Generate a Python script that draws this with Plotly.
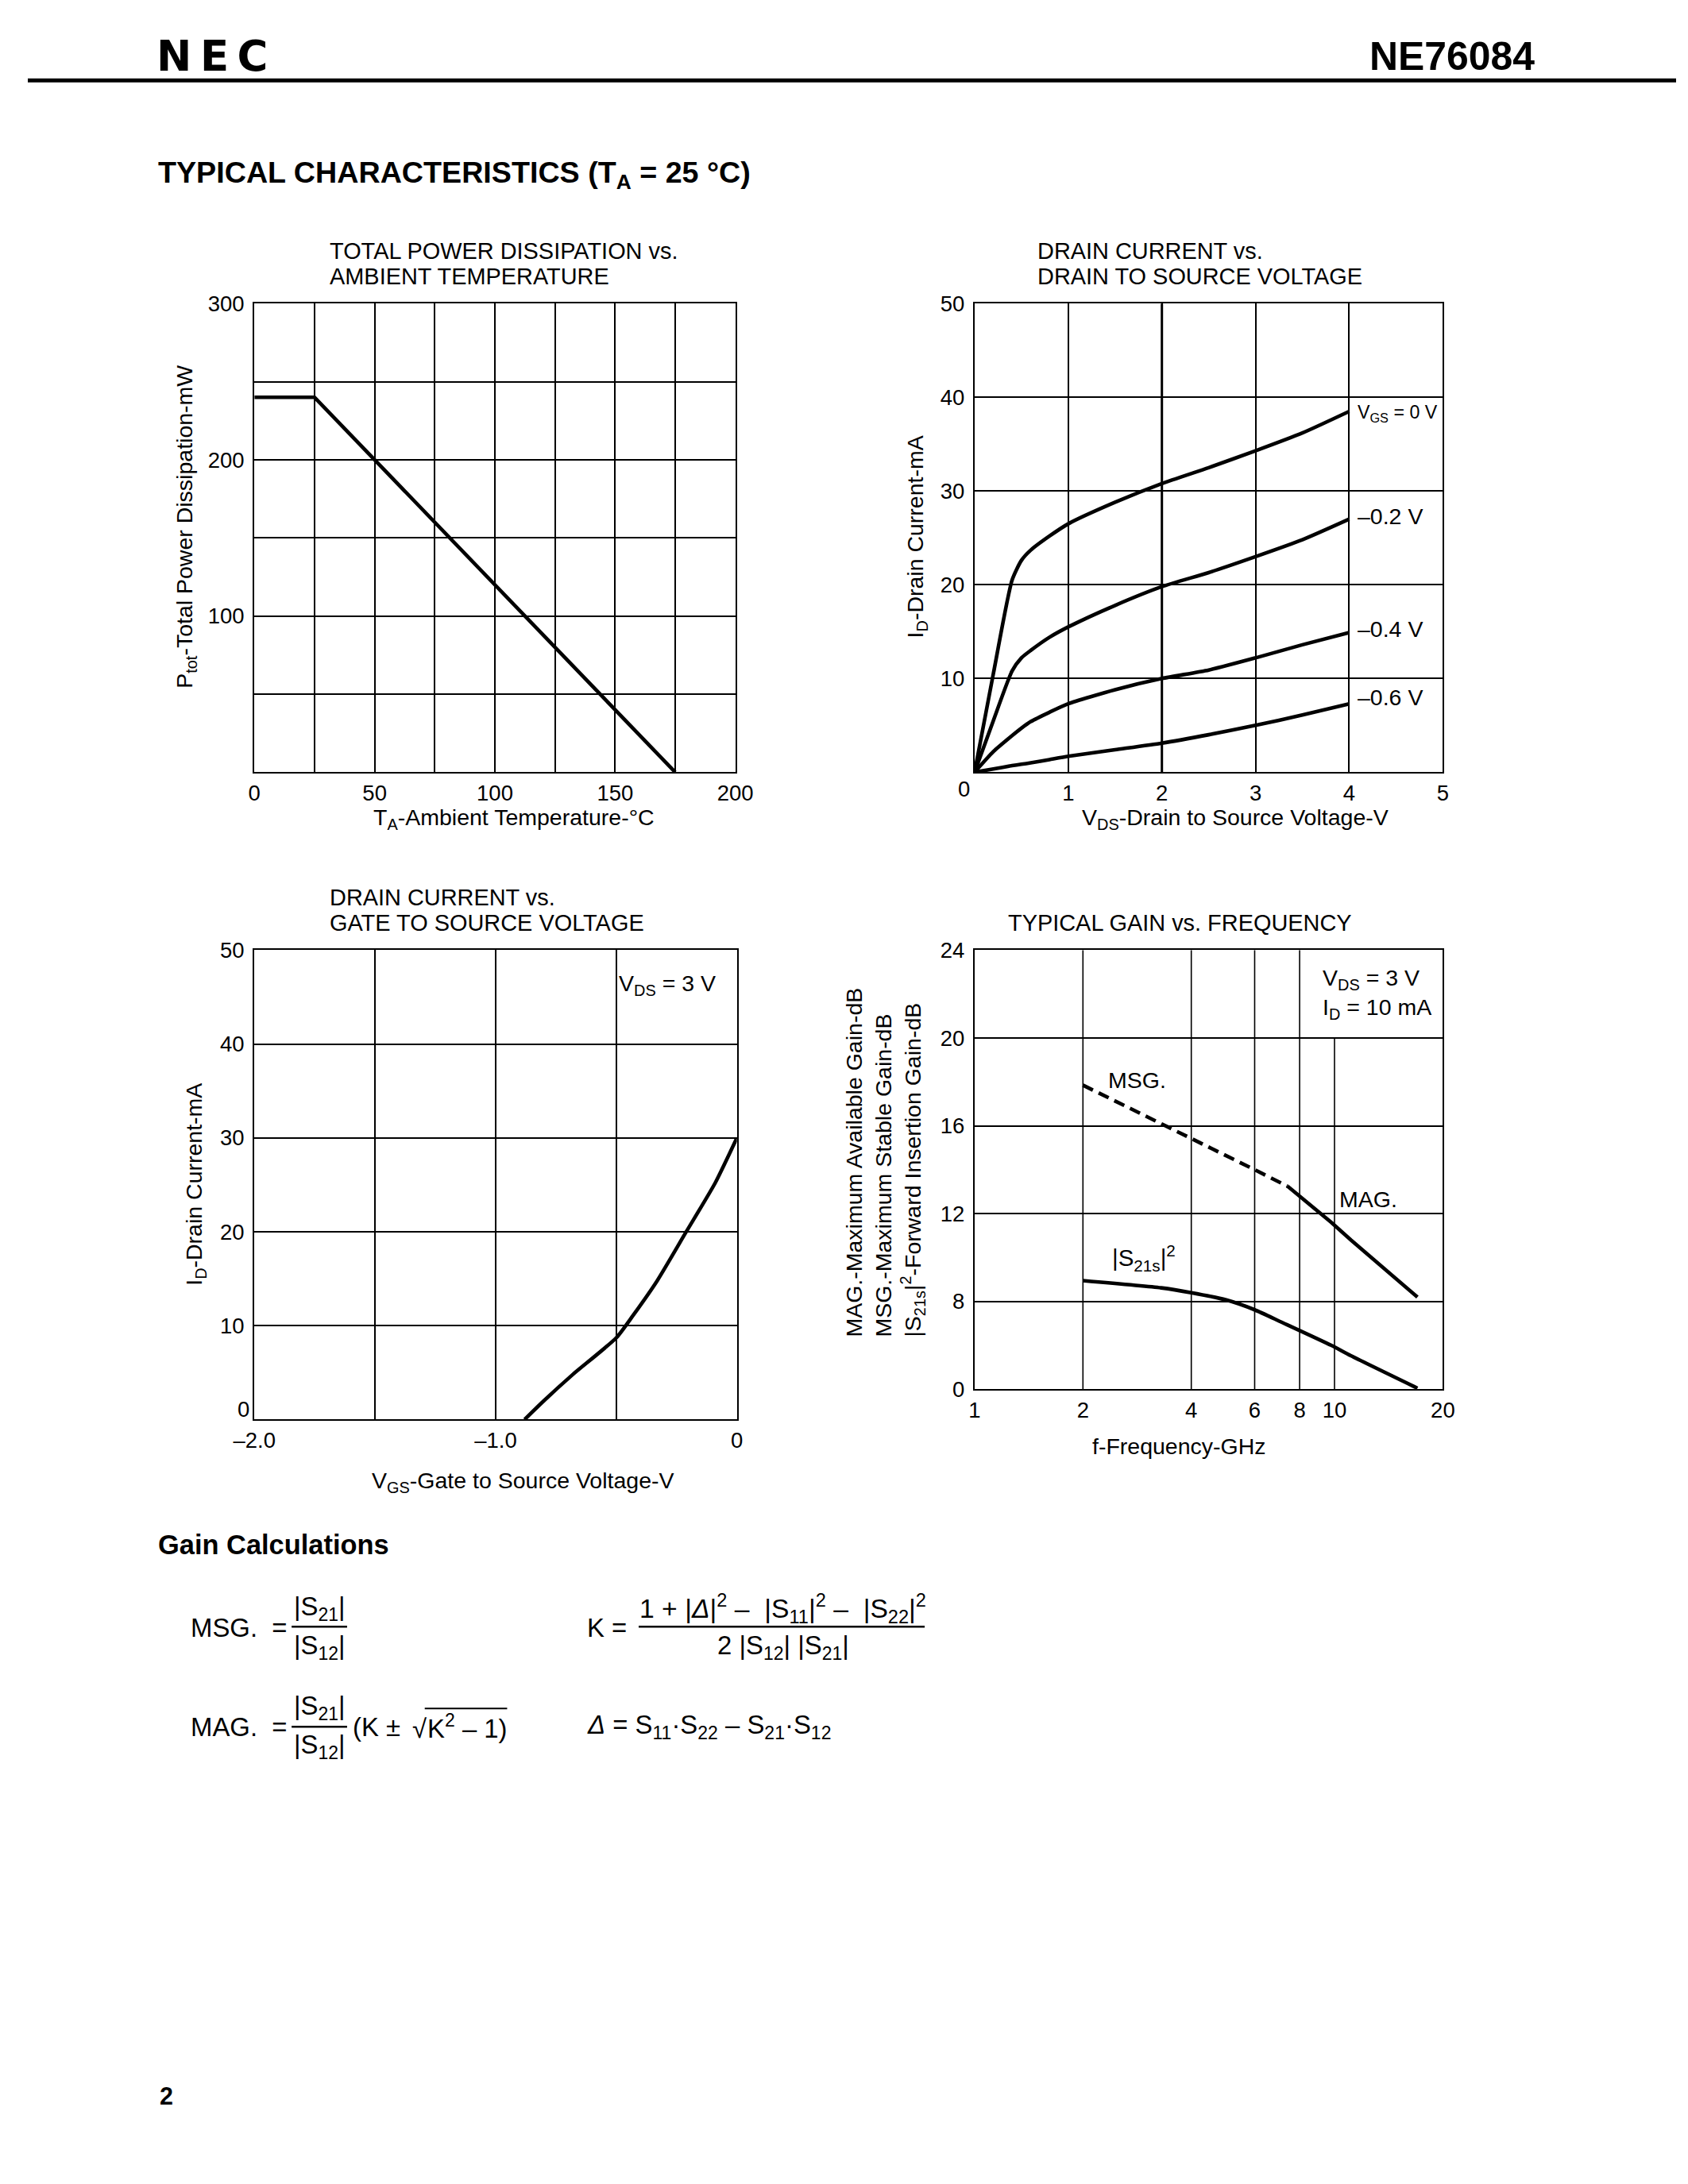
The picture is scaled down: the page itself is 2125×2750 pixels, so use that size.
import math
import plotly.graph_objects as go

# ---------------- data ----------------
# Total power dissipation vs ambient temperature
ta_temp = [0, 25, 175]
ptot_mw = [240, 240, 0]

# Drain current vs drain-source voltage
vds = [0, 0.2, 0.4, 0.5, 0.6, 0.8, 1.0, 1.5, 2.0, 2.5, 3.0, 3.5, 4.0]
id_vgs_0 = [0, 10.5, 20.5, 22.6, 23.7, 25.2, 26.5, 28.8, 30.8, 32.5, 34.3, 36.2, 38.5]
id_vgs_m02 = [0, 5.5, 10.8, 12.2, 13.0, 14.4, 15.5, 17.8, 19.8, 21.3, 23.0, 24.8, 27.0]
id_vgs_m04 = [0, 2.2, 3.9, 4.7, 5.4, 6.4, 7.3, 8.8, 10.0, 10.9, 12.2, 13.6, 14.9]
id_vgs_m06 = [0, 0.35, 0.7, 0.85, 1.0, 1.35, 1.7, 2.4, 3.1, 4.0, 5.0, 6.1, 7.3]
vgs_labels = ["V<sub>GS</sub> = 0 V", "–0.2 V", "–0.4 V", "–0.6 V"]

# Drain current vs gate-source voltage (VDS = 3 V)
vgs = [-0.88, -0.8, -0.68, -0.5, -0.43, -0.33, -0.21, -0.09, 0]
id_vds3 = [0, 2.0, 4.8, 8.7, 11.1, 14.8, 20.0, 25.2, 30.0]

# Typical gain vs frequency (values in axis units; printed bottom label is "0")
freq_msg = [2, 3.3, 4, 6, 7.4]
msg_db = [17.85, 16.1, 15.45, 14.0, 13.25]
freq_mag = [7.4, 9.8, 11.1, 17]
mag_db = [13.25, 11.6, 10.8, 8.2]
freq_s21 = [2, 3.3, 4, 5, 6, 7.1, 9.8, 11.1, 17]
s21_db = [8.95, 8.62, 8.4, 8.07, 7.62, 7.07, 6.0, 5.53, 4.05]

gain_yticks = [4, 8, 12, 16, 20, 24]
gain_yticktext = ["0", "8", "12", "16", "20", "24"]
freq_ticks = [1, 2, 4, 6, 8, 10, 20]

# ---------------- helpers ----------------
W, H = 2125, 2750
# placement is given in page pixels; map them onto the figure canvas
OX, SX = 30.0, 0.979
OY, SY = 21.7, 0.9887
FONT = "Liberation Sans, Arial, Helvetica, sans-serif"
NB = "\u00a0"
TS = "\u2009"
PAD = 6   # annotation box padding compensation


def px(x):
    return ((x - OX) / SX) / W


def py(y):
    return 1 - ((y - OY) / SY) / H


def fs(s):
    return s / 0.982


annotations = []
shapes = []


def ann(text, x, y, size=28, xanchor="center", yanchor="middle", angle=0,
        xref="paper", yref="paper", family=FONT, align="center"):
    if xref == "paper":
        if xanchor == "left":
            x -= PAD
        elif xanchor == "right":
            x += PAD
        x = px(x)
    if yref == "paper":
        y = py(y)
    annotations.append(dict(text=text, x=x, y=y, xref=xref, yref=yref,
                            xanchor=xanchor, yanchor=yanchor, showarrow=False,
                            textangle=angle, align=align,
                            font=dict(size=fs(size), color="black", family=family)))


def hline(x0, x1, y, width=2.5):
    shapes.append(dict(type="line", xref="paper", yref="paper",
                       x0=max(px(x0), 0), x1=min(px(x1), 1), y0=py(y), y1=py(y),
                       line=dict(color="black", width=width)))


LW = 4.6
fig = go.Figure()

# plot 1
fig.add_trace(go.Scatter(x=ta_temp, y=ptot_mw, xaxis="x", yaxis="y", mode="lines",
                         line=dict(color="black", width=LW)))
# plot 2
for ys in [id_vgs_0, id_vgs_m02, id_vgs_m04, id_vgs_m06]:
    fig.add_trace(go.Scatter(x=vds, y=ys, xaxis="x2", yaxis="y2", mode="lines",
                             line=dict(color="black", width=LW, shape="spline", smoothing=0.6)))
# plot 3
fig.add_trace(go.Scatter(x=vgs, y=id_vds3, xaxis="x3", yaxis="y3", mode="lines",
                         line=dict(color="black", width=LW, shape="spline", smoothing=0.6)))
# plot 4
fig.add_trace(go.Scatter(x=freq_msg, y=msg_db, xaxis="x4", yaxis="y4", mode="lines",
                         line=dict(color="black", width=LW, dash="14px,8px")))
fig.add_trace(go.Scatter(x=freq_mag, y=mag_db, xaxis="x4", yaxis="y4", mode="lines",
                         line=dict(color="black", width=LW)))
fig.add_trace(go.Scatter(x=freq_s21, y=s21_db, xaxis="x4", yaxis="y4", mode="lines",
                         line=dict(color="black", width=LW, shape="spline", smoothing=0.6)))

ax = dict(showline=True, mirror=True, linecolor="black", linewidth=2.4,
          showgrid=True, gridcolor="black", gridwidth=1.6, zeroline=False,
          ticks="", tickfont=dict(size=fs(27), color="black", family=FONT),
          fixedrange=True)
axy = dict(ax, ticklabelstandoff=5)

P1 = dict(x0=316, x1=923, y0=381, y1=971)
P2 = dict(x0=1225, x1=1816, y0=381, y1=971)
P3 = dict(x0=316, x1=925, y0=1195, y1=1786)
P4 = dict(x0=1225, x1=1816, y0=1195, y1=1748)


def dom(p):
    return [px(p["x0"]), px(p["x1"])], [py(p["y1"]), py(p["y0"])]


d1x, d1y = dom(P1)
d2x, d2y = dom(P2)
d3x, d3y = dom(P3)
d4x, d4y = dom(P4)

t1x = list(range(0, 201, 25))
t1y = list(range(0, 301, 50))
t3x = [-2.0, -1.5, -1.0, -0.5, 0]

fig.update_layout(
    width=W, height=H, margin=dict(l=0, r=0, t=0, b=0), autosize=False,
    paper_bgcolor="white", plot_bgcolor="white", showlegend=False,
    font=dict(family=FONT, color="black"),
    xaxis=dict(ax, domain=d1x, range=[0, 200], anchor="y", tickvals=t1x,
               ticktext=[str(v) if v % 50 == 0 else "" for v in t1x]),
    yaxis=dict(axy, domain=d1y, range=[0, 300], anchor="x", tickvals=t1y,
               ticktext=[str(v) if v in (100, 200, 300) else "" for v in t1y]),
    xaxis2=dict(ax, domain=d2x, range=[0, 5], anchor="y2", tickvals=[0, 1, 2, 3, 4, 5],
                ticktext=["", "1", "2", "3", "4", "5"]),
    yaxis2=dict(axy, domain=d2y, range=[0, 50], anchor="x2", tickvals=[0, 10, 20, 30, 40, 50],
                ticktext=["", "10", "20", "30", "40", "50"]),
    xaxis3=dict(ax, domain=d3x, range=[-2, 0], anchor="y3", tickvals=t3x,
                ticktext=["–2.0", "", "–1.0", "", "0"]),
    yaxis3=dict(axy, domain=d3y, range=[0, 50], anchor="x3", tickvals=[0, 10, 20, 30, 40, 50],
                ticktext=["", "10", "20", "30", "40", "50"]),
    xaxis4=dict(ax, domain=d4x, type="log", range=[0, math.log10(20)], anchor="y4",
                tickvals=freq_ticks, ticktext=[str(v) for v in freq_ticks], showgrid=False),
    yaxis4=dict(axy, domain=d4y, range=[4, 24], anchor="x4", tickvals=gain_yticks,
                ticktext=gain_yticktext),
)

# separately placed corner tick labels
ann("0", 1212, 992, size=27)                   # plot 2 x = 0
ann("0", 306, 1773, size=27, xanchor="right")  # plot 3 y = 0

# thicker vertical grid line in plot 2
shapes.append(dict(type="line", xref="x2", yref="y2", x0=2, x1=2, y0=0, y1=50,
                   line=dict(color="black", width=3)))
# vertical grid lines in plot 4 (10 GHz line stops at 20)
for f in [2, 4, 6, 8]:
    shapes.append(dict(type="line", xref="x4", yref="y4", x0=f, x1=f, y0=4, y1=24,
                       line=dict(color="black", width=1.6)))
shapes.append(dict(type="line", xref="x4", yref="y4", x0=10, x1=10, y0=4, y1=20,
                   line=dict(color="black", width=1.6)))

# header
ann("<b>N" + TS + "E" + TS + "C</b>", 196, 69, size=52, xanchor="left",
    family="DejaVu Sans, Liberation Sans")
ann("<b>NE76084</b>", 1928, 70, size=49, xanchor="right")
hline(0, 2125, 100, width=5)
ann("<b>TYPICAL CHARACTERISTICS (T<sub>A</sub> = 25 °C)</b>", 198, 219, size=37, xanchor="left")

# plot titles
TT = 28.4
ann("TOTAL POWER DISSIPATION vs.", 415, 315, size=TT, xanchor="left")
ann("AMBIENT TEMPERATURE", 415, 347, size=TT, xanchor="left")
ann("DRAIN CURRENT vs.", 1308, 315, size=TT, xanchor="left")
ann("DRAIN TO SOURCE VOLTAGE", 1308, 347, size=TT, xanchor="left")
ann("DRAIN CURRENT vs.", 415, 1129, size=TT, xanchor="left")
ann("GATE TO SOURCE VOLTAGE", 415, 1161, size=TT, xanchor="left")
ann("TYPICAL GAIN vs. FREQUENCY", 1271, 1161, size=TT, xanchor="left")

# axis titles
ann("T<sub>A</sub>-Ambient Temperature-°C", 644, 1030)
ann("P<sub>tot</sub>-Total Power Dissipation-mW", 230, 662, angle=-90)
ann("V<sub>DS</sub>-Drain to Source Voltage-V", 1554, 1030)
ann("I<sub>D</sub>-Drain Current-mA", 1152, 675, angle=-90)
ann("V<sub>GS</sub>-Gate to Source Voltage-V", 655, 1865)
ann("I<sub>D</sub>-Drain Current-mA", 242, 1490, angle=-90)
ann("f-Frequency-GHz", 1483, 1820)
ann("MAG.-Maximum Available Gain-dB<br>MSG.-Maximum Stable Gain-dB<br>"
    "|S<sub>21s</sub>|<sup>2</sup>-Forward Insertion Gain-dB",
    1112, 1684, angle=-90, yanchor="bottom", align="left")

# series labels plot 2
for lab, yv, sz in zip(vgs_labels, [38.3, 27.3, 15.3, 8.0], [22.8, 28, 28, 28]):
    ann(lab, 4.07, yv, size=sz, xanchor="left", xref="x2", yref="y2")

# plot 3 condition
ann("V<sub>DS</sub> = 3 V", -0.08, 46.3, xanchor="right", xref="x3", yref="y3")

# plot 4 labels
ann("V<sub>DS</sub> = 3 V<br>I<sub>D</sub> = 10 mA", math.log10(9.16), 22.0,
    xanchor="left", xref="x4", yref="y4", align="left")
ann("MSG.", math.log10(2.83), 18.07, xref="x4", yref="y4")
ann("MAG.", math.log10(12.4), 12.64, xref="x4", yref="y4")
ann("|S<sub>21s</sub>|<sup>2</sup>", math.log10(2.96), 9.97, xref="x4", yref="y4", size=29)

# gain calculations
ann("<b>Gain Calculations</b>", 198, 1944, size=33.8, xanchor="left")
FS = 32.3
ann("MSG." + NB + NB + "=", 240, 2048, size=FS, xanchor="left")
hline(363, 433, 2047)
ann("|S<sub>21</sub>|", 398, 2024, size=FS)
ann("|S<sub>12</sub>|", 398, 2073, size=FS)

ann("K =", 740, 2048, size=FS, xanchor="left")
hline(801, 1162, 2047)
ann("1 + |<i>Δ</i>|<sup>2</sup> –" + NB + " |S<sub>11</sub>|<sup>2</sup> –" + NB +
    " |S<sub>22</sub>|<sup>2</sup>", 983, 2024, size=FS + 0.8)
ann("2 |S<sub>12</sub>| |S<sub>21</sub>|", 983, 2073, size=FS)

ann("MAG." + NB + NB + "=", 240, 2173, size=FS, xanchor="left")
hline(363, 433, 2173)
ann("|S<sub>21</sub>|", 398, 2149, size=FS)
ann("|S<sub>12</sub>|", 398, 2198, size=FS)
ann("(K ±", 444, 2173, size=FS, xanchor="left")
ann("√", 519, 2175, size=FS, xanchor="left")
ann("K<sup>2</sup> – 1)", 538, 2173, size=FS, xanchor="left")
hline(531, 635, 2150, width=2)

ann("<i>Δ</i> = S<sub>11</sub>·S<sub>22</sub> – S<sub>21</sub>·S<sub>12</sub>", 740, 2173,
    size=FS, xanchor="left")

# page number
ann("<b>2</b>", 205, 2638, size=30, xanchor="center")

fig.update_layout(annotations=annotations, shapes=shapes)
fig.write_html("out.html")
